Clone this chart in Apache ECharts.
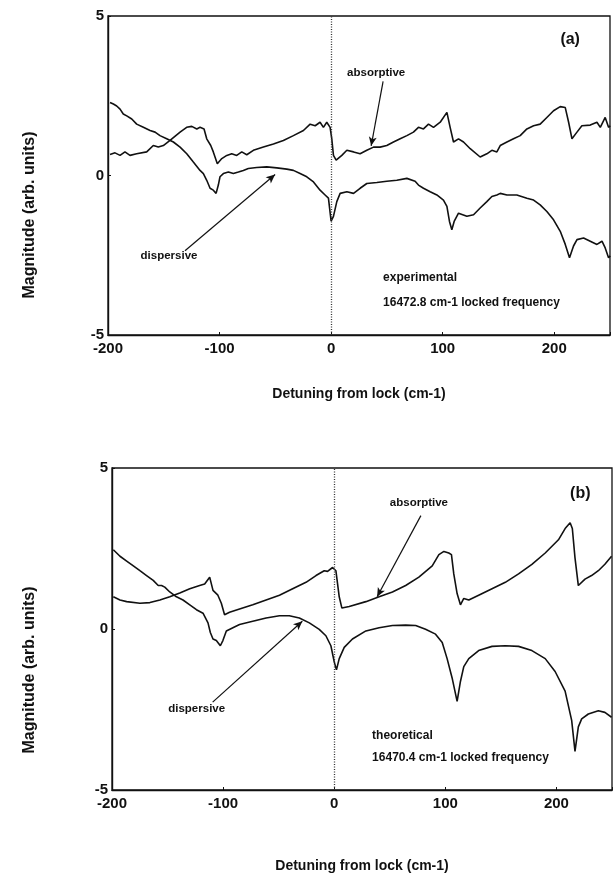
<!DOCTYPE html>
<html>
<head>
<meta charset="utf-8">
<script src="https://cdn.jsdelivr.net/npm/echarts@6/dist/echarts.min.js"></script>
<style>
  html, body { margin: 0; padding: 0; background: #fff; }
  #chart { width: 615px; height: 878px; }
</style>
</head>
<body>
<div id="chart"></div>
<script>
// Panel (a): experimental lock response
const expAbsX = [-198.2,-193.7,-189.2,-184.8,-180.3,-174.3,-165.3,-159.4,-154.9,-150.4,-144.4,-135.4,-129.5,-124.9,-120.4,-117.5,-113.9,-111.5,-107.9,-105.6,-102,-98,-93.5,-89.1,-84.6,-80.1,-75.6,-69.7,-60.7,-51.7,-42.8,-33.8,-24.8,-18.8,-14.3,-9.9,-6.9,-3.9,-0.9,
  0.6,2.1,4.5,9.6,14.1,20.1,26.0,32.0,38.0,43.9,49.9,55.9,61.9,67.9,73.8,78.3,82.8,87.3,91.8,97.8,103.8,106.7,109.7,114.2,118.7,124.7,133.6,139.6,144.1,148.6,151.6,157.6,163.5,169.5,175.5,181.5,187.4,193.4,199.4,205.4,209.9,212.9,215.9,220.4,224.8,232.3,238.3,241.3,245.7,248.7,250.2];
const expAbsY = [0.66,0.71,0.63,0.74,0.63,0.68,0.74,0.94,0.89,0.94,1.10,1.36,1.51,1.54,1.46,1.51,1.46,1.15,0.94,0.74,0.37,0.53,0.63,0.68,0.63,0.74,0.65,0.79,0.89,0.99,1.10,1.25,1.41,1.61,1.56,1.67,1.51,1.67,1.51,
  1.15,0.63,0.48,0.63,0.79,0.74,0.68,0.79,0.89,0.89,0.94,1.05,1.15,1.25,1.36,1.51,1.46,1.61,1.51,1.67,1.98,1.51,1.05,1.15,1.05,0.84,0.58,0.68,0.79,0.74,0.94,1.05,1.15,1.25,1.46,1.56,1.61,1.82,2.03,2.16,2.13,1.67,1.15,1.36,1.56,1.58,1.67,1.51,1.82,1.51,1.56];

const expDisX = [-198.2,-195.2,-192.2,-189.2,-186.3,-183.2,-178.7,-174.3,-168.3,-162.3,-157.8,-153.4,-147.4,-141.4,-135.4,-129.4,-123.5,-117.5,-114.5,-111.5,-108.5,-105.6,-103.1,-101.1,-99.6,-96.6,-92.1,-87.6,-83.1,-78.7,-74.2,-66.7,-57.7,-48.7,-39.7,-33.8,-27.8,-21.8,-15.8,-9.9,-5.4,-2.4,
  0,2.1,5.1,8.1,14.1,20.1,26.0,32.0,41.0,49.9,58.9,67.9,75.3,78.3,82.8,88.8,94.8,100.7,103.8,106.1,108.2,110.3,114.2,121.7,127.7,133.6,139.6,144.1,148.6,151.6,157.6,166.5,175.5,181.5,187.4,193.4,199.4,205.4,209.9,213.7,217.3,220.4,226.3,232.3,238.3,242.8,245.7,248.7,250.2];
const expDisY = [2.29,2.24,2.18,2.08,1.93,1.87,1.77,1.61,1.51,1.41,1.36,1.25,1.15,1.05,0.89,0.68,0.42,0.16,0.06,-0.15,-0.40,-0.46,-0.56,-0.30,-0.04,0.06,0.11,0.06,0.11,0.16,0.22,0.25,0.27,0.24,0.20,0.16,0.06,-0.04,-0.20,-0.46,-0.61,-0.71,
  -1.43,-1.28,-0.82,-0.56,-0.51,-0.56,-0.40,-0.25,-0.22,-0.18,-0.15,-0.09,-0.18,-0.30,-0.40,-0.51,-0.61,-0.77,-0.97,-1.44,-1.70,-1.44,-1.18,-1.28,-1.23,-1.02,-0.82,-0.66,-0.61,-0.56,-0.61,-0.61,-0.71,-0.77,-0.92,-1.13,-1.39,-1.75,-2.16,-2.58,-2.21,-2.01,-1.96,-2.06,-2.16,-2.06,-2.27,-2.58,-2.52];

// Panel (b): theoretical lock response
const thAbsX = [-198.8,-192.8,-186.8,-174.9,-165.9,-156.9,-148.0,-139.0,-130.0,-121.1,-116.6,-112.1,-109.1,-104.7,-101.6,-98.7,-94.2,-85.2,-73.3,-61.3,-49.3,-37.4,-25.4,-16.4,-9.0,-6.0,-1.5,
  1.5,4.5,6.9,13.5,28.5,40.4,52.4,64.3,76.2,88.2,94.2,98.7,103.1,105.5,107.6,110.6,113.6,116.6,121.1,130.0,142.0,154.0,165.9,177.9,189.9,201.8,207.8,212.3,214.3,216.7,219.7,225.7,231.6,237.7,243.6,249.6];
const thAbsY = [1.0,0.9,0.85,0.80,0.82,0.90,1.0,1.12,1.25,1.35,1.40,1.61,1.20,1.05,0.80,0.44,0.52,0.62,0.75,0.90,1.05,1.25,1.45,1.66,1.81,1.79,1.91,
  1.81,1.0,0.65,0.70,0.85,1.0,1.15,1.35,1.61,1.96,2.31,2.41,2.36,2.31,1.71,1.10,0.75,0.95,0.90,1.05,1.25,1.45,1.71,2.01,2.36,2.77,3.12,3.30,3.12,2.21,1.35,1.55,1.66,1.81,2.01,2.26];

const thDisX = [-198.8,-192.8,-186.8,-180.8,-174.9,-168.9,-162.9,-158.4,-155.4,-152.5,-148.0,-142.0,-136.1,-130.0,-124.0,-118.1,-116.6,-113.6,-111.5,-109.1,-106.1,-102.5,-100.2,-97.1,-91.2,-85.2,-73.3,-61.3,-49.3,-40.4,-31.4,-22.4,-13.5,-7.5,-3.0,0,
  2.0,4.5,9.0,16.4,28.5,40.4,52.4,64.3,73.3,82.2,91.2,97.2,101.6,106.1,110.6,113.6,116.6,121.1,130.0,142.0,154.0,165.9,177.9,189.9,198.8,207.8,213.7,216.7,219.7,222.7,228.7,237.7,243.6,249.6];
const thDisY = [2.46,2.26,2.11,1.96,1.81,1.66,1.51,1.35,1.35,1.30,1.15,1.0,0.90,0.75,0.60,0.49,0.49,0.19,-0.11,-0.31,-0.36,-0.52,-0.36,-0.06,0.04,0.14,0.24,0.34,0.41,0.41,0.34,0.19,-0.01,-0.21,-0.52,-1.02,
  -1.27,-0.92,-0.57,-0.31,-0.06,0.04,0.11,0.12,0.11,-0.01,-0.16,-0.42,-0.92,-1.52,-2.25,-1.63,-1.17,-0.92,-0.67,-0.54,-0.52,-0.54,-0.67,-0.92,-1.32,-1.93,-2.84,-3.80,-3.04,-2.79,-2.64,-2.54,-2.59,-2.74];

const xTicks = [-200, -100, 0, 100, 200];
const yTicks = [-5, 0, 5];
const xTitle = 'Detuning from lock (cm-1)';
const yTitle = 'Magnitude (arb. units)';

const FONT = '"Liberation Sans", Arial, sans-serif';
const INK = '#111';

function pairs(xs, ys) { return xs.map((x, i) => [x, ys[i]]); }

function xAxisFor(gridIndex, gap) {
  return {
    type: 'value', gridIndex, min: -200, max: 250, interval: 100,
    name: xTitle, nameLocation: 'middle', nameGap: gap,
    nameTextStyle: { fontFamily: FONT, fontWeight: 'bold', fontSize: 14, color: INK },
    axisLine: { show: true, onZero: false, lineStyle: { color: INK, width: 1.4 } },
    axisTick: { show: true, inside: true, length: 3, lineStyle: { color: INK } },
    axisLabel: { margin: 6, fontFamily: FONT, fontWeight: 'bold', fontSize: 15, color: INK,
      formatter: v => xTicks.includes(v) ? String(v) : '' },
    splitLine: { show: false }
  };
}
function yAxisFor(gridIndex) {
  return {
    type: 'value', gridIndex, min: -5, max: 5, interval: 5,
    axisLine: { show: true, onZero: false, lineStyle: { color: INK, width: 1.4 } },
    axisTick: { show: true, inside: true, length: 3, lineStyle: { color: INK } },
    axisLabel: { margin: 4, fontFamily: FONT, fontWeight: 'bold', fontSize: 15, color: INK,
      formatter: v => yTicks.includes(v) ? String(v) : '' },
    splitLine: { show: false }
  };
}

function textPoint(coord, text, align, size) {
  return {
    coord, value: text, symbol: 'circle', symbolSize: 1,
    itemStyle: { color: 'rgba(0,0,0,0)' },
    label: { show: true, position: 'inside', align: align || 'center', verticalAlign: 'middle',
      formatter: text, fontFamily: FONT, fontWeight: 'bold', fontSize: size || 11.5, color: INK }
  };
}
function arrow(from, to) {
  return [{ coord: from, symbol: 'none' }, { coord: to, symbol: 'arrow', symbolSize: [6, 9] }];
}

function lineSeries(idx, data, extra) {
  return Object.assign({
    type: 'line', xAxisIndex: idx, yAxisIndex: idx, data,
    showSymbol: false, symbol: 'none', smooth: false, clip: true,
    lineStyle: { color: INK, width: 1.6 }, silent: true, animation: false
  }, extra || {});
}

function zeroLine() {
  return {
    silent: true, symbol: ['none', 'none'], animation: false,
    label: { show: false },
    lineStyle: { color: '#333', type: [1, 1.5], width: 1.3 },
    data: [{ xAxis: 0 }]
  };
}
function annotations(arrows) {
  return {
    silent: true, animation: false, label: { show: false },
    lineStyle: { color: INK, type: 'solid', width: 1.2 },
    data: arrows
  };
}

function yTitleText(cy) {
  return {
    type: 'text', x: 30, y: cy, rotation: Math.PI / 2, silent: true,
    style: { text: yTitle, align: 'center', verticalAlign: 'middle',
      font: 'bold 16px ' + FONT, fill: INK }
  };
}

const chart = echarts.init(document.getElementById('chart'), null, { renderer: 'canvas' });
chart.setOption({
  animation: false,
  backgroundColor: '#fff',
  grid: [
    { left: 108, top: 16, width: 502, height: 319, show: true, borderColor: INK, borderWidth: 1.3, containLabel: false },
    { left: 112, top: 468, width: 502, height: 322, show: true, borderColor: INK, borderWidth: 1.3, containLabel: false }
  ],
  xAxis: [xAxisFor(0, 52), xAxisFor(1, 69)],
  yAxis: [yAxisFor(0), yAxisFor(1)],
  graphic: [yTitleText(215), yTitleText(670)],
  series: [
    lineSeries(0, pairs(expAbsX, expAbsY), {
      markLine: zeroLine(),
      markPoint: { silent: true, animation: false, data: [
        textPoint([40.4, 3.23], 'absorptive'),
        textPoint([-145.3, -2.52], 'dispersive'),
        textPoint([214.3, 4.25], '(a)', 'center', 16),
        textPoint([46.6, -3.2], 'experimental', 'left', 12),
        textPoint([46.6, -4.0], '16472.8 cm-1 locked frequency', 'left', 12)
      ] }
    }),
    lineSeries(0, pairs(expDisX, expDisY), {
      markLine: annotations([arrow([46.6, 2.95], [35.9, 0.93]), arrow([-131, -2.36], [-50.2, 0.03])])
    }),
    lineSeries(1, pairs(thAbsX, thAbsY), {
      markLine: zeroLine(),
      markPoint: { silent: true, animation: false, data: [
        textPoint([76.2, 3.91], 'absorptive'),
        textPoint([-123.8, -2.48], 'dispersive'),
        textPoint([221.5, 4.21], '(b)', 'center', 16),
        textPoint([34.1, -3.3], 'theoretical', 'left', 12),
        textPoint([34.1, -4.0], '16470.4 cm-1 locked frequency', 'left', 12)
      ] }
    }),
    lineSeries(1, pairs(thDisX, thDisY), {
      markLine: annotations([arrow([78, 3.52], [38.6, 1.0]), arrow([-109.4, -2.27], [-28.7, 0.24])])
    })
  ]
});
</script>
</body>
</html>
